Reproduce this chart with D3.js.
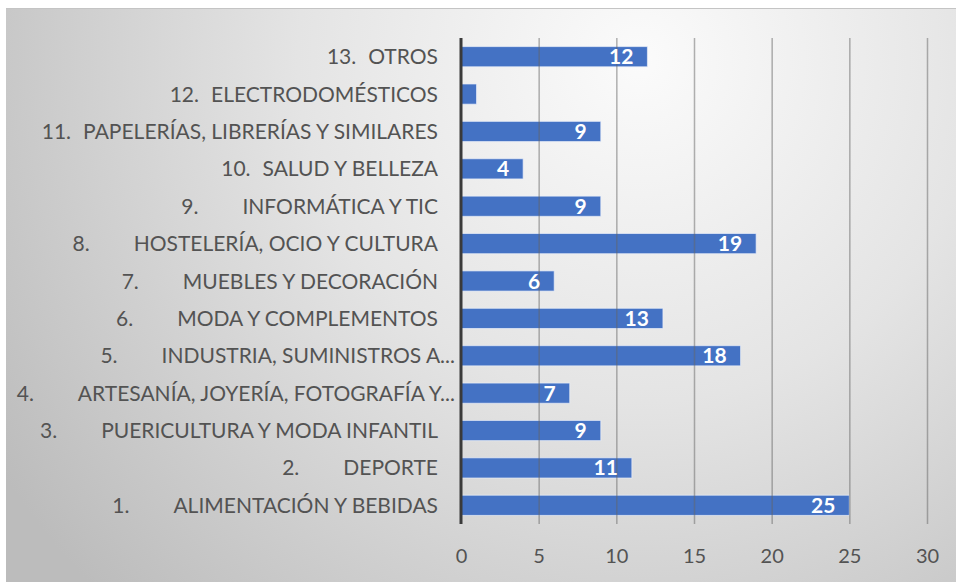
<!DOCTYPE html>
<html>
<head>
<meta charset="utf-8">
<script src="https://cdn.jsdelivr.net/npm/d3@7"></script>
<style>
  body { margin: 0; background: #fff; }
  svg { display: block; }
</style>
</head>
<body>
<svg id="chart"></svg>
<script>
// labels: number and text separated by a tab, bottom to top
var labels = [
  "1.\tALIMENTACIÓN Y BEBIDAS",
  "2.\tDEPORTE",
  "3.\tPUERICULTURA Y MODA INFANTIL",
  "4.\tARTESANÍA, JOYERÍA, FOTOGRAFÍA Y...",
  "5.\tINDUSTRIA, SUMINISTROS A...",
  "6.\tMODA Y COMPLEMENTOS",
  "7.\tMUEBLES Y DECORACIÓN",
  "8.\tHOSTELERÍA, OCIO Y CULTURA",
  "9.\tINFORMÁTICA Y TIC",
  "10.\tSALUD Y BELLEZA",
  "11.\tPAPELERÍAS, LIBRERÍAS Y SIMILARES",
  "12.\tELECTRODOMÉSTICOS",
  "13.\tOTROS"
];
var values = [25, 11, 9, 7, 18, 13, 6, 19, 9, 4, 9, 1, 12];
var ticks = [0, 5, 10, 15, 20, 25, 30];

var width = 956;
var height = 582;
var barColor = "#4472C4";
var textColor = "#535353";
var font = "Lato, 'Open Sans', sans-serif";

var data = labels.map((l, i) => ({label: l, value: values[i]}));

var svg = d3.select("#chart")
    .attr("width", width)
    .attr("height", height);

var defs = svg.append("defs");
var grad = defs.append("radialGradient")
    .attr("id", "bg")
    .attr("gradientUnits", "userSpaceOnUse")
    .attr("cx", 640).attr("cy", 60).attr("r", 760);
grad.append("stop").attr("offset", "0").attr("stop-color", "#fbfbfb");
grad.append("stop").attr("offset", "0.45").attr("stop-color", "#e4e4e4");
grad.append("stop").attr("offset", "1").attr("stop-color", "#bcbcbc");

svg.append("rect")
    .attr("x", 6).attr("y", 8)
    .attr("width", width - 6).attr("height", height - 8)
    .attr("fill", "url(#bg)");
svg.append("line")
    .attr("x1", 6).attr("x2", width)
    .attr("y1", 8.5).attr("y2", 8.5)
    .attr("stroke", "#c4c4c4");

var x = d3.scaleLinear()
    .domain([0, 30])
    .range([461, 927]);

var y = d3.scaleBand()
    .domain(labels.slice().reverse())
    .range([38, 524])
    .paddingInner(0.46)
    .paddingOuter(0.23);

// bars
svg.append("g")
  .selectAll("rect")
  .data(data)
  .enter()
  .append("rect")
    .attr("x", x(0))
    .attr("y", d => y(d.label))
    .attr("width", d => x(d.value) - x(0))
    .attr("height", y.bandwidth())
    .attr("fill", barColor)
    .attr("stroke", "rgba(235,240,250,0.7)")
    .attr("stroke-width", 1);

// gridlines drawn over the bars, they show through in the picture
var grid = svg.append("g")
    .attr("transform", "translate(0,524)")
    .call(d3.axisBottom(x).tickValues(ticks.slice(1)).tickSize(-486).tickFormat(""));
grid.select(".domain").remove();
grid.selectAll("line")
    .attr("stroke", "#666")
    .attr("stroke-opacity", 0.5)
    .attr("stroke-width", 1.5);

// value axis
var xAxis = svg.append("g")
    .attr("transform", "translate(0,524)")
    .call(d3.axisBottom(x).tickValues(ticks).tickSize(0).tickPadding(25));
xAxis.select(".domain").remove();
xAxis.selectAll("text")
    .attr("fill", textColor)
    .style("font-family", font)
    .style("font-size", "20px");

// category axis line
svg.append("line")
    .attr("x1", x(0)).attr("x2", x(0))
    .attr("y1", 38).attr("y2", 524)
    .attr("stroke", "#3a3a3a")
    .attr("stroke-width", 3);

// category labels
var catG = svg.append("g")
    .style("font-family", font)
    .style("font-size", "21px")
    .attr("fill", textColor);

data.forEach(d => {
  var parts = d.label.split("\t");
  var cy = y(d.label) + y.bandwidth() / 2;
  var truncated = parts[1].endsWith("...");
  var name = catG.append("text")
      .attr("x", truncated ? 455 : 438)
      .attr("y", cy)
      .attr("dy", "0.36em")
      .attr("text-anchor", "end")
      .text(parts[1]);
  var start = name.node().getBBox().x;
  var gap = parts[0].length > 2 ? 12 : 44;
  catG.append("text")
      .attr("x", start - gap)
      .attr("y", cy)
      .attr("dy", "0.36em")
      .attr("text-anchor", "end")
      .text(parts[0]);
});

// value labels, inside end
svg.append("g")
  .selectAll("text")
  .data(data.filter(d => x(d.value) - x(0) > 30))
  .enter()
  .append("text")
    .attr("x", d => x(d.value) - 14)
    .attr("y", d => y(d.label) + y.bandwidth() / 2)
    .attr("dy", "0.36em")
    .attr("text-anchor", "end")
    .attr("fill", "#fff")
    .style("font-family", font)
    .style("font-weight", "bold")
    .style("font-size", "21px")
    .text(d => d.value);
</script>
</body>
</html>
